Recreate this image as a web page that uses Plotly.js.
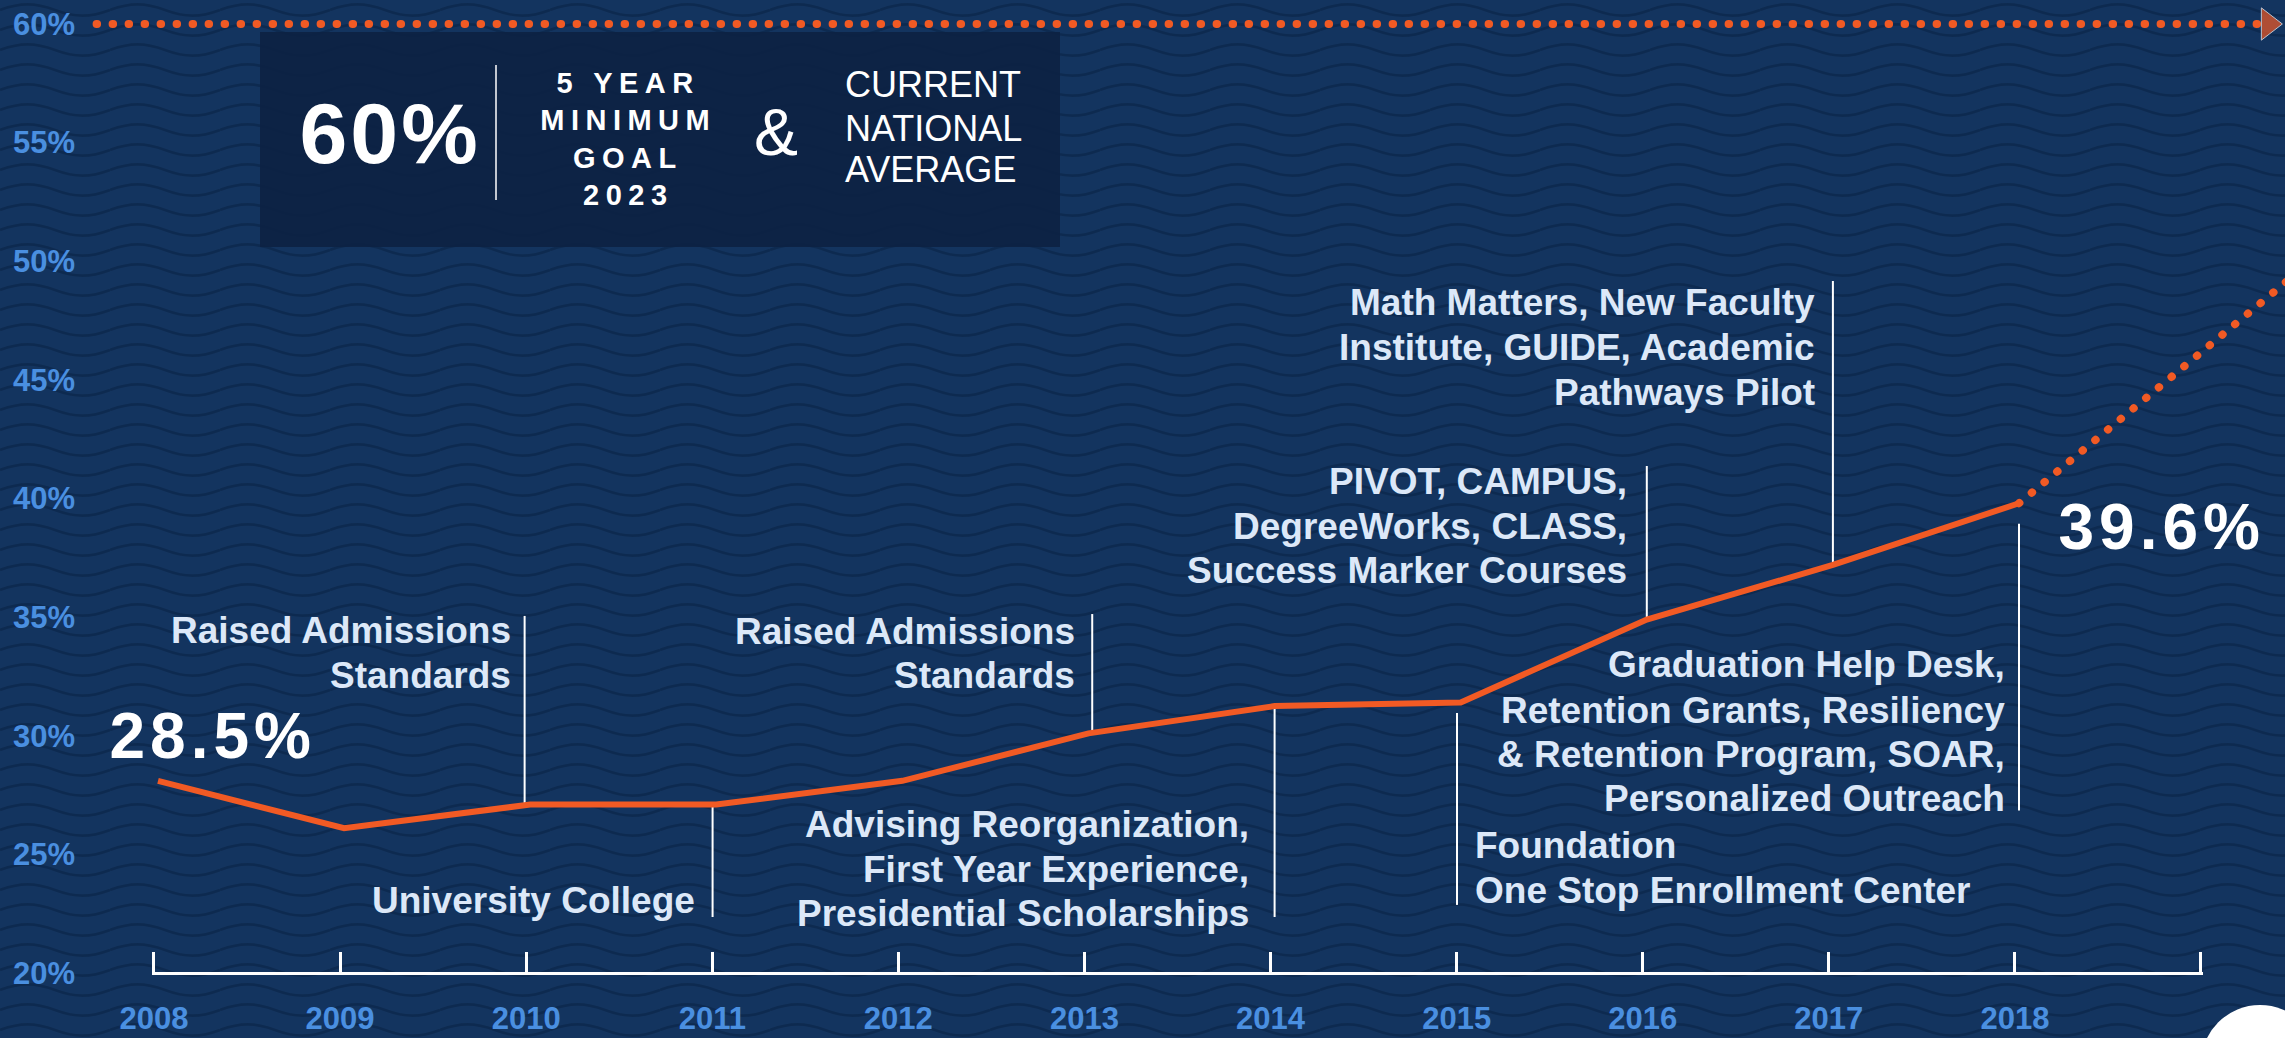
<!DOCTYPE html>
<html>
<head>
<meta charset="utf-8">
<script src="https://cdn.plot.ly/plotly-3.0.1.min.js"></script>
<style>
html, body { margin: 0; padding: 0; width: 2285px; height: 1038px; overflow: hidden; }
body { background-color: #13345f; }
#chart { width: 2285px; height: 1038px; }
.tracegoal path.js-line, .traceproj path.js-line { stroke-linecap: round; }
.annotation[data-index="0"] .annotation-text { letter-spacing: 3px; }
.annotation[data-index="1"] .annotation-text,
.annotation[data-index="2"] .annotation-text,
.annotation[data-index="3"] .annotation-text,
.annotation[data-index="4"] .annotation-text { letter-spacing: 6.5px; }
.annotation[data-index="5"] .annotation-text,
.annotation[data-index="6"] .annotation-text { letter-spacing: 5px; }
</style>
</head>
<body>
<div id="chart"></div>
<script>
// ---------------- data ----------------
const years = [2008, 2009, 2010, 2011, 2012, 2013, 2014, 2015, 2016, 2017, 2018];
const gradRate = [28.1, 26.1, 27.1, 27.1, 28.1, 30.1, 31.25, 31.4, 34.9, 37.2, 39.8];
const projYears = [2018, 2019.6];
const projRate = [39.8, 50.2];
const goalYears = [2007.67, 2019.34];
const goalRate = [60, 60];
const tickYears = [2008, 2009, 2010, 2011, 2012, 2013, 2014, 2015, 2016, 2017, 2018, 2019];
const tickLabels = ['2008', '2009', '2010', '2011', '2012', '2013', '2014', '2015', '2016', '2017', '2018', ''];
const pctTicks = [20, 25, 30, 35, 40, 45, 50, 55, 60];
const pctLabels = ['20%', '25%', '30%', '35%', '40%', '45%', '50%', '55%', '60%'];
const startLabel = '28.5%';
const endLabel = '39.6%';
const linkYears = [2009.97, 2010.98, 2013.02, 2014.0, 2014.98, 2016.0, 2017.0, 2018.0];
const linkTop = [35.05, 27.1, 35.13, 31.25, 30.96, 41.37, 49.17, 38.94];
const linkBottom = [27.1, 22.36, 30.2, 22.36, 22.87, 34.9, 37.2, 26.85];
const initiatives = [
  'Raised Admissions<br>Standards',
  'University College',
  'Raised Admissions<br>Standards',
  'Advising Reorganization,<br>First Year Experience,<br>Presidential Scholarships',
  'Foundation<br>One Stop Enrollment Center',
  'PIVOT, CAMPUS,<br>DegreeWorks, CLASS,<br>Success Marker Courses',
  'Math Matters, New Faculty<br>Institute, GUIDE, Academic<br>Pathways Pilot',
  'Graduation Help Desk,<br>Retention Grants, Resiliency<br>& Retention Program, SOAR,<br>Personalized Outreach'
];
const goalBig = '60%';
const goalLines = ['5 YEAR', 'MINIMUM', 'GOAL', '2023'];
const avgLines = ['CURRENT', 'NATIONAL', 'AVERAGE'];

// ---------------- layout helpers ----------------
const W = 2285, H = 1038;
const px = x => x / W;
const py = y => 1 - y / H;
const ORANGE = '#F15A24';
const TXT = '#DCE8F8';
const BLUE = '#4A8FE0';
const FONT = 'Liberation Sans, Arial, Helvetica, sans-serif';

// background wave pattern
const waveSvg = "<svg xmlns='http://www.w3.org/2000/svg' width='110' height='20'>" +
  "<path d='M0 10 C20 2.5 35 2.5 55 10 S90 17.5 110 10' fill='none' stroke='#0d2a50' stroke-width='2.8'/></svg>";
document.body.style.backgroundImage = 'url("data:image/svg+xml,' + encodeURIComponent(waveSvg) + '")';

// x2: data axis covering the full width (2008 at 158px)
const X0PX = 158, PXYR = 186.1;
const x2range = [2008 - X0PX / PXYR, 2008 + (W - X0PX) / PXYR];
// y: full height, 20% at 973px, 60% at 24px
const PXPCT = (973 - 24) / 40;
const yrange = [20 - (H - 973) / PXPCT, 60 + 24 / PXPCT];
// tick axis: 2008 at 154px, 2019 at 2201px (tiny pad so end ticks are kept)
const TPAD = 0.01, TPX = (2201 - 154) / 11;

const traces = [
  { x: [], y: [], xaxis: 'x', yaxis: 'y', type: 'scatter', showlegend: false, hoverinfo: 'skip' },
  { x: goalYears, y: goalRate, xaxis: 'x2', yaxis: 'y', type: 'scatter', mode: 'lines+markers', uid: 'goal',
    line: { color: ORANGE, width: 8, dash: '0.5px,15.5px' },
    marker: { color: ORANGE, size: [0, 28], symbol: ['circle', 'triangle-right'] },
    showlegend: false, hoverinfo: 'skip' },
  { x: projYears, y: projRate, xaxis: 'x2', yaxis: 'y', type: 'scatter', mode: 'lines', uid: 'proj',
    line: { color: ORANGE, width: 8, dash: '0.5px,16px' }, showlegend: false, hoverinfo: 'skip' },
  { x: years, y: gradRate, xaxis: 'x2', yaxis: 'y', type: 'scatter', mode: 'lines', uid: 'rate',
    line: { color: ORANGE, width: 6 }, showlegend: false, hoverinfo: 'skip' }
];

const shapes = [
  { type: 'rect', xref: 'paper', yref: 'paper', x0: px(260), x1: px(1060), y0: py(247), y1: py(32),
    fillcolor: 'rgba(13,33,66,0.88)', line: { width: 0 }, layer: 'below' },
  { type: 'line', xref: 'paper', yref: 'paper', x0: px(496), x1: px(496), y0: py(200), y1: py(65),
    line: { color: '#ffffff', width: 1.5 } },
  { type: 'circle', xref: 'paper', yref: 'paper', x0: px(2201), x1: px(2319), y0: py(1123), y1: py(1005),
    fillcolor: '#ffffff', line: { width: 0 } }
];
linkYears.forEach((yr, i) => {
  shapes.push({ type: 'line', xref: 'x2', yref: 'y', x0: yr, x1: yr, y0: linkBottom[i], y1: linkTop[i],
    line: { color: '#ffffff', width: 2 }, layer: 'below' });
});

const annotations = [];
function ann(text, x, y, opts) {
  annotations.push(Object.assign({ text: text, xref: 'paper', yref: 'paper', x: px(x), y: py(y),
    showarrow: false, xanchor: 'center', yanchor: 'middle' }, opts));
}
// 0..4 box goal text
ann(goalBig, 390, 133, { font: { family: FONT, size: 86, color: '#ffffff', weight: 'bold' } });
const goalY = [83, 120, 157.5, 195];
goalLines.forEach((t, i) => ann(t, 628, goalY[i], { font: { family: FONT, size: 29, color: '#ffffff', weight: 'bold' } }));
// 5,6 big values
ann(startLabel, 212, 736, { font: { family: FONT, size: 64, color: '#ffffff', weight: 'bold' } });
ann(endLabel, 2161, 527, { font: { family: FONT, size: 64, color: '#ffffff', weight: 'bold' } });
// 7 ampersand
ann('&', 776, 132, { font: { family: FONT, size: 66, color: '#ffffff' } });
// 8..10 national average
const avgY = [85, 128, 170];
avgLines.forEach((t, i) => ann(t, 843, avgY[i], { xanchor: 'left', font: { family: FONT, size: 36, color: '#ffffff' } }));
// initiatives, one annotation per line
const initPos = [
  [513, 'right', [630, 675]],
  [697, 'right', [900]],
  [1077, 'right', [631, 675]],
  [1251, 'right', [824, 869, 913]],
  [1473, 'left', [845, 890]],
  [1629, 'right', [481.5, 526, 570.5]],
  [1817, 'right', [302.5, 347.5, 392.5]],
  [2007, 'right', [664, 710, 754, 798]]
];
initiatives.forEach((t, i) => {
  const p = initPos[i];
  t.split('<br>').forEach((line, j) => {
    ann(line, p[0], p[2][j], { xanchor: p[1], align: p[1], font: { family: FONT, size: 37, color: TXT, weight: 'bold' } });
  });
});

const layout = {
  width: W, height: H,
  margin: { l: 0, r: 0, t: 0, b: 0, pad: 0 },
  paper_bgcolor: 'rgba(0,0,0,0)', plot_bgcolor: 'rgba(0,0,0,0)',
  showlegend: false,
  xaxis: {
    domain: [px(154 - TPAD * TPX), px(2201 + TPAD * TPX)], range: [2008 - TPAD, 2019 + TPAD],
    anchor: 'free', position: 65 / H,
    showline: true, linecolor: '#ffffff', linewidth: 3,
    ticks: 'inside', ticklen: 20, tickwidth: 3, tickcolor: '#ffffff',
    tickmode: 'array', tickvals: tickYears, ticktext: tickLabels,
    tickfont: { family: FONT, size: 31, color: BLUE, weight: 'bold' },
    ticklabelstandoff: 17,
    showgrid: false, zeroline: false, fixedrange: true
  },
  xaxis2: { domain: [0, 1], range: x2range, anchor: 'y', visible: false, fixedrange: true },
  yaxis: {
    domain: [0, 1], range: yrange, anchor: 'x2',
    tickmode: 'array', tickvals: pctTicks, ticktext: pctLabels,
    ticklabelposition: 'inside', ticks: '', ticklabelstandoff: 10,
    tickfont: { family: FONT, size: 31, color: BLUE, weight: 'bold' },
    showgrid: false, zeroline: false, showline: false, fixedrange: true
  },
  shapes: shapes,
  annotations: annotations
};

Plotly.newPlot('chart', traces, layout, { displayModeBar: false, staticPlot: true }).then(gd => {
  gd.querySelectorAll('.tracegoal path.js-line, .traceproj path.js-line').forEach(p => {
    p.style.strokeLinecap = 'round';
  });
});
</script>
</body>
</html>
